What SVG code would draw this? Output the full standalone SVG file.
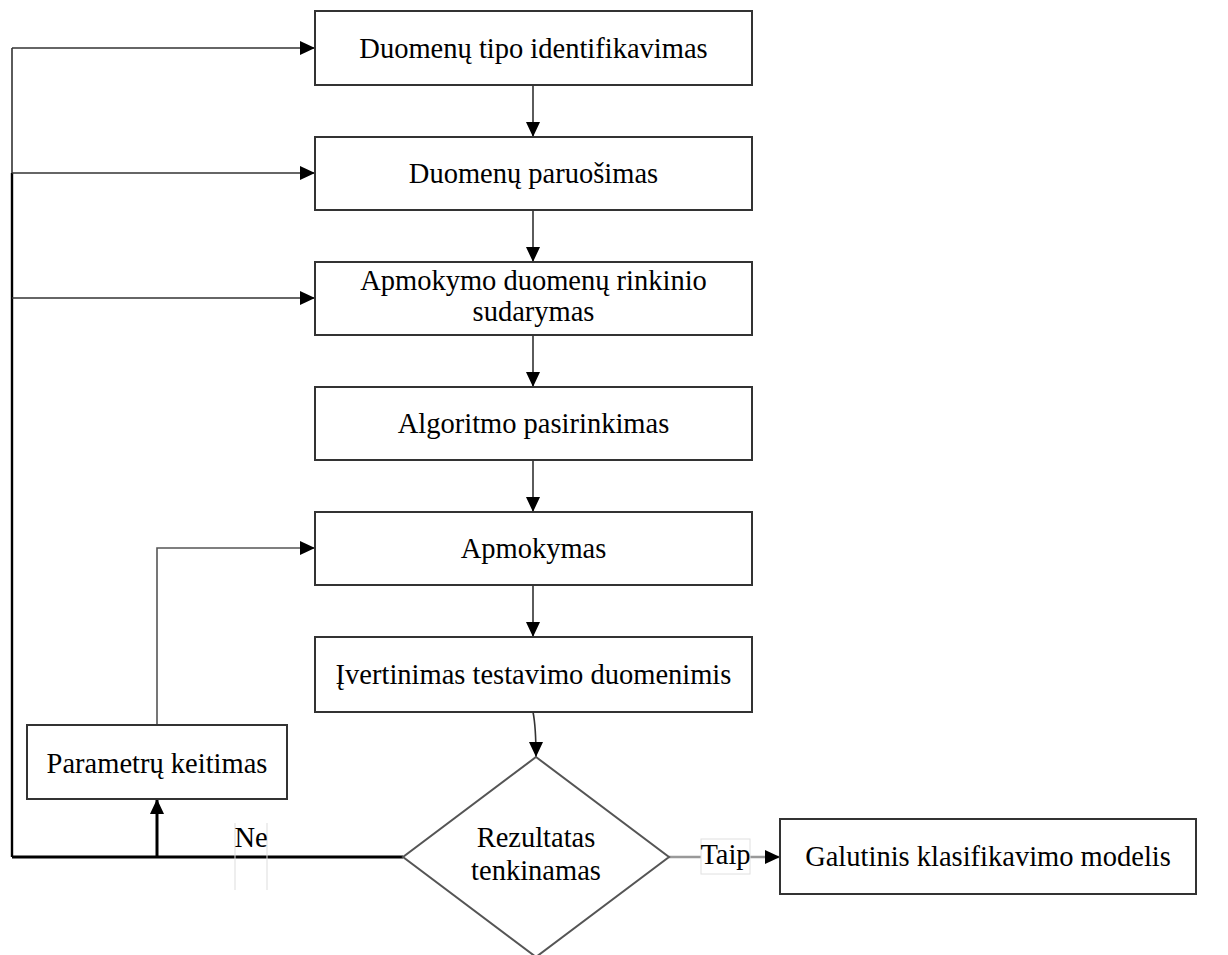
<svg xmlns="http://www.w3.org/2000/svg" width="1228" height="955" viewBox="0 0 1228 955">
  <style>
    .box { fill: #ffffff; stroke: #333333; stroke-width: 2; }
    .lbl { font-family: "Liberation Serif", "Times New Roman", serif; font-size: 28.5px; fill: #000000; text-anchor: middle; }
    .edge { fill: none; stroke: #333333; stroke-width: 1.6; }
    .thick { fill: none; stroke: #000000; stroke-width: 3; }
  </style>
  <defs>
    <marker id="arrow" markerUnits="userSpaceOnUse" markerWidth="16" markerHeight="16" refX="15" refY="8" orient="auto">
      <path d="M0,1 L15,8 L0,15 z" fill="#000000"/>
    </marker>
  </defs>
  <rect width="1228" height="955" fill="#ffffff"/>

  <g id="connectors">
    <!-- feedback bus on the left -->
    <path class="edge" d="M12,48 L12,173"/>
    <path class="thick" style="stroke-width:2.4" d="M12,173 L12,857"/>
    <path class="edge" d="M12,48 L315,48" marker-end="url(#arrow)"/>
    <path class="edge" d="M12,173 L315,173" marker-end="url(#arrow)"/>
    <path class="edge" d="M12,298 L315,298" marker-end="url(#arrow)"/>
    <!-- vertical flow -->
    <path class="edge" d="M533,85 L533,137" marker-end="url(#arrow)"/>
    <path class="edge" d="M533,210 L533,262" marker-end="url(#arrow)"/>
    <path class="edge" d="M533,335 L533,387" marker-end="url(#arrow)"/>
    <path class="edge" d="M533,460 L533,512" marker-end="url(#arrow)"/>
    <path class="edge" d="M533,585 L533,637" marker-end="url(#arrow)"/>
    <path class="edge" d="M533,712 C535,722 536,732 536,757" marker-end="url(#arrow)"/>
    <!-- "Ne" branch -->
    <path class="thick" d="M403,857 L12,857"/>
    <path class="thick" d="M157,857 L157,799" marker-end="url(#arrow)"/>
    <path class="edge" style="stroke:#555555" d="M157,725 L157,548 L315,548" marker-end="url(#arrow)"/>
    <line x1="235" y1="823" x2="235" y2="890" stroke="#dddddd" stroke-width="1"/>
    <line x1="267" y1="823" x2="267" y2="890" stroke="#dddddd" stroke-width="1"/>
    <text class="lbl" x="251" y="847">Ne</text>
    <!-- "Taip" branch -->
    <path fill="none" stroke="#999999" stroke-width="2.5" d="M669,857 L780,857" marker-end="url(#arrow)"/>
    <rect x="701" y="839" width="49" height="35" fill="#ffffff" stroke="#e0e0e0" stroke-width="1"/>
    <text class="lbl" x="725.5" y="864">Taip</text>
  </g>

  <g id="n1">
    <rect class="box" x="315" y="11" width="437" height="74"/>
    <text class="lbl" x="533.5" y="58">Duomenų tipo identifikavimas</text>
  </g>
  <g id="n2">
    <rect class="box" x="315" y="137" width="437" height="73"/>
    <text class="lbl" x="533.5" y="183">Duomenų paruošimas</text>
  </g>
  <g id="n3">
    <rect class="box" x="315" y="262" width="437" height="73"/>
    <text class="lbl" x="533.5" y="290">Apmokymo duomenų rinkinio</text>
    <text class="lbl" x="533.5" y="321">sudarymas</text>
  </g>
  <g id="n4">
    <rect class="box" x="315" y="387" width="437" height="73"/>
    <text class="lbl" x="533.5" y="433">Algoritmo pasirinkimas</text>
  </g>
  <g id="n5">
    <rect class="box" x="315" y="512" width="437" height="73"/>
    <text class="lbl" x="533.5" y="558">Apmokymas</text>
  </g>
  <g id="n6">
    <rect class="box" x="315" y="637" width="437" height="75"/>
    <text class="lbl" x="533.5" y="684">Įvertinimas testavimo duomenimis</text>
  </g>
  <g id="n7">
    <rect class="box" x="27" y="725" width="260" height="74"/>
    <text class="lbl" x="157" y="773">Parametrų keitimas</text>
  </g>
  <g id="n8">
    <polygon class="box" style="stroke:#555555" points="536,757 669,857 536,957 403,857"/>
    <text class="lbl" x="536" y="847">Rezultatas</text>
    <text class="lbl" x="536" y="880">tenkinamas</text>
  </g>
  <g id="n9">
    <rect class="box" x="780" y="819" width="416" height="75"/>
    <text class="lbl" x="988" y="866">Galutinis klasifikavimo modelis</text>
  </g>
</svg>
